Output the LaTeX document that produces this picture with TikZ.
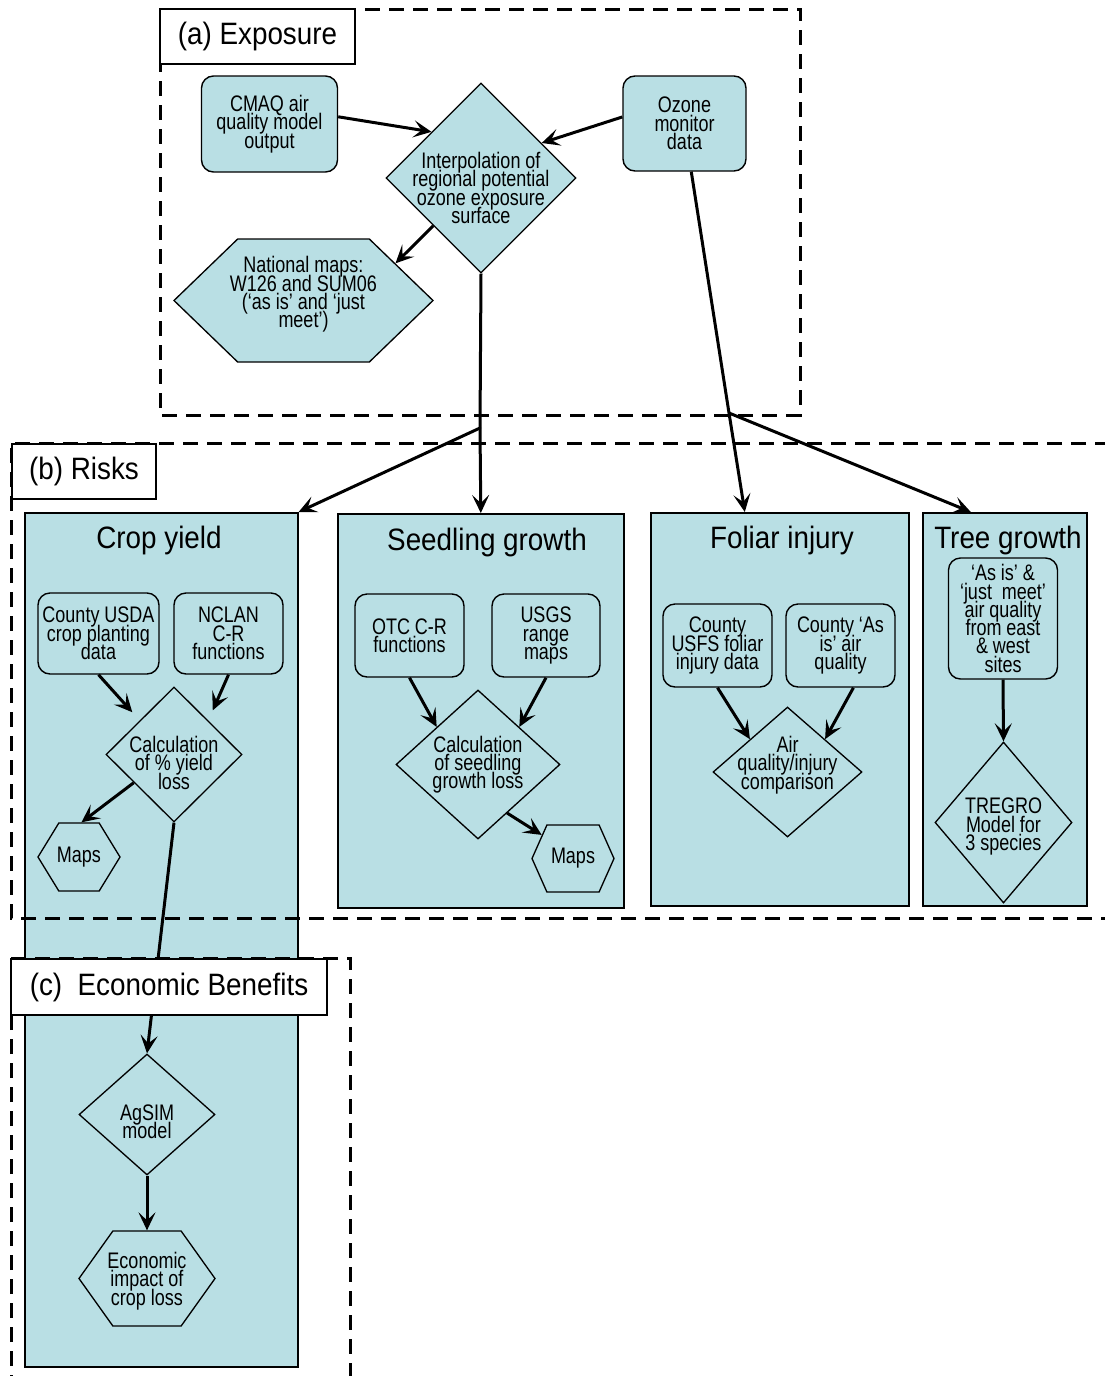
\documentclass[tikz,border=0pt]{standalone}
\usepackage{fontspec}
\setmainfont{Liberation Sans}[FakeStretch=0.8]
\newfontfamily\headfont{Liberation Sans}[FakeStretch=0.9]
\usetikzlibrary{arrows.meta,shapes.geometric,shapes.symbols}
\definecolor{paleblue}{RGB}{185,223,228}
\protected\def\boxfont{\fontsize{16}{13}\selectfont\lineskiplimit=-100pt\relax}

\begin{document}
\begin{tikzpicture}[x=0.25mm,y=-0.25mm,
		every node/.style={inner sep=0pt},
		txt/.style={align=center,font=\boxfont},
		ttl/.style={font=\headfont\fontsize{22}{24}\selectfont},
		panel/.style={draw,line width=0.4mm,fill=paleblue,anchor=north west},
		box/.style={draw,line width=0.35mm,fill=paleblue,rounded corners=3mm,txt},
		dia/.style={diamond,draw,line width=0.33mm,fill=paleblue},
		hexa/.style={signal,signal to=east and west,draw,line width=0.33mm,fill=paleblue},
		region/.style={line width=0.75mm,dash pattern=on 3.75mm off 2.25mm},
		tag/.style={draw,line width=0.45mm,fill=white,ttl},
		conn/.style={line width=0.75mm},
		arr/.style={conn,-{Stealth[length=4.5mm,width=4.25mm,inset=2mm]}}]
	\useasboundingbox (0,0) rectangle (1104,1376);
	% panels
	\node[panel,minimum width=68.25mm,minimum height=213.5mm] (crop) at (24,512) {};
	\node[panel,minimum width=71.5mm,minimum height=98.5mm] (seedling) at (337,513) {};
	\node[panel,minimum width=64.5mm,minimum height=98.25mm] (foliar) at (650,512) {};
	\node[panel,minimum width=41mm,minimum height=98.25mm] (tree) at (922,512) {};
	\draw[region] (160,9) rectangle (800,415);
	\draw[region] (1110,443) -- (11,443) -- (11,918) -- (1110,918);
	\draw[region] (11,1390) -- (11,958) -- (350,958) -- (350,1390);
	% (a)
	\node[box,minimum width=34mm,minimum height=24mm] (cmaq) at (269.5,124) {CMAQ air\\quality model\\output};
	\node[box,minimum width=30.75mm,minimum height=23.75mm] (ozone) at (684.5,123.5) {Ozone\\monitor\\data};
	\node[dia,minimum width=47.5mm,minimum height=47.5mm,
		label={[txt,yshift=-2.5mm]center:{Interpolation of\\regional potential\\ozone exposure\\surface}}] (interp) at (481,178) {};
	\node[hexa,signal pointer angle=88,minimum width=64.75mm,minimum height=30.75mm,
		label={[txt,yshift=1.5mm]center:{National maps:\\W126 and SUM06\\(`as is' and `just\\meet')}}] (natmap) at (303.5,300.5) {};
	% (b)
	\node[ttl] (tcrop) at (159,540) {Crop yield};
	\node[box,minimum width=30.25mm,minimum height=20.25mm] (usda) at (98.5,633.5) {County USDA\\crop planting\\data};
	\node[box,minimum width=27.25mm,minimum height=20.25mm] (nclan) at (228.5,633.5) {NCLAN\\C-R\\functions};
	\node[dia,minimum width=34mm,minimum height=33.75mm,
		label={[txt,yshift=-2.1mm]center:{Calculation\\of \% yield\\loss}}] (yield) at (174,754.5) {};
	\node[hexa,signal pointer angle=117,minimum width=20.5mm,minimum height=17mm,
		label={[txt]center:Maps}] (cmaps) at (79,857) {};
	\node[ttl] (tseed) at (487,542) {Seedling growth};
	\node[box,minimum width=27.25mm,minimum height=20.75mm] (otc) at (409.5,635.5) {OTC C-R\\functions};
	\node[box,minimum width=27mm,minimum height=20.75mm] (usgs) at (546,635.5) {USGS\\range\\maps};
	\node[dia,minimum width=41mm,minimum height=37.25mm,
		label={[txt]center:{Calculation\\of seedling\\growth loss}}] (seedcalc) at (478,764.5) {};
	\node[hexa,signal pointer angle=132,minimum width=20.5mm,minimum height=16.75mm,
		label={[txt]center:Maps}] (smaps) at (573,858.5) {};
	\node[ttl] (tfol) at (782,540) {Foliar injury};
	\node[box,minimum width=27.25mm,minimum height=20.75mm] (usfs) at (717.5,645.5) {County\\USFS foliar\\injury data};
	\node[box,minimum width=27.25mm,minimum height=20.75mm] (asis) at (840.5,645.5) {County `As\\is' air\\quality};
	\node[dia,minimum width=37.25mm,minimum height=32.5mm,
		label={[txt,yshift=1.75mm]center:{Air\\quality/injury\\comparison}}] (airq) at (787.5,772) {};
	\node[ttl] (ttree) at (1008,540) {Tree growth};
	\node[box,minimum width=27.25mm,minimum height=30.25mm] (treebox) at (1003,618.5) {`As is' \&\\`just\ \ meet'\\air quality\\from east\\\& west\\sites};
	\node[dia,minimum width=34.25mm,minimum height=40.25mm,
		label={[txt,yshift=-1mm]center:{TREGRO\\Model for\\3 species}}] (tregro) at (1003.5,822.5) {};
	% (c)
	\node[dia,minimum width=34mm,minimum height=30.25mm,
		label={[txt,yshift=-1.9mm]center:{AgSIM\\model}}] (agsim) at (147,1114.5) {};
	\node[hexa,signal pointer angle=109,minimum width=34mm,minimum height=23.75mm,
		label={[txt,yshift=-0.6mm]center:{Economic\\impact of\\crop loss}}] (econ) at (147,1278.5) {};
	\coordinate (split) at (480,428);
	\coordinate (osplit) at (729,413);
	\draw[arr] (cmaq.6) -- (interp.137);
	\draw[arr] (ozone.174) -- (interp.30);
	\draw[arr] (interp.225) -- (natmap.22);
	\draw[conn] (interp.south) -- (split);
	\draw[arr] (split) -- (crop.north east);
	\draw[arr] (split) -- (seedling.north);
	\draw[conn] (ozone.-82) -- (osplit);
	\draw[arr] (osplit) -- ([xshift=-8.75mm]foliar.north);
	\draw[arr] (osplit) -- ([xshift=-8.5mm]tree.north);
	\draw[arr,shorten >=2.75mm] (usda.south) -- (yield.north west);
	\draw[arr,shorten >=2.75mm] (nclan.south) -- (yield.north east);
	\draw[arr] (yield.215) -- (cmaps.86);
	\draw[arr] (yield.south) -- (agsim.north);
	\draw[arr] (otc.south) -- (seedcalc.north west);
	\draw[arr] (usgs.south) -- (seedcalc.north east);
	\draw[arr] (seedcalc.-59) -- (smaps.143);
	\draw[arr] (usfs.south) -- (airq.north west);
	\draw[arr] (asis.-73) -- (airq.north east);
	\draw[arr] (treebox.south) -- (tregro.north);
	\draw[arr] (agsim.south) -- (econ.north);
	\node[tag,minimum width=48.75mm,minimum height=13.75mm] (taga) at (257.5,36.5) {(a) Exposure};
	\node[tag,minimum width=36mm,minimum height=13.75mm] (tagb) at (84,471.5) {(b) Risks};
	\node[tag,minimum width=79mm,minimum height=14mm] (tagc) at (169,987) {(c)\ \ Economic Benefits};
\end{tikzpicture}
\end{document}
